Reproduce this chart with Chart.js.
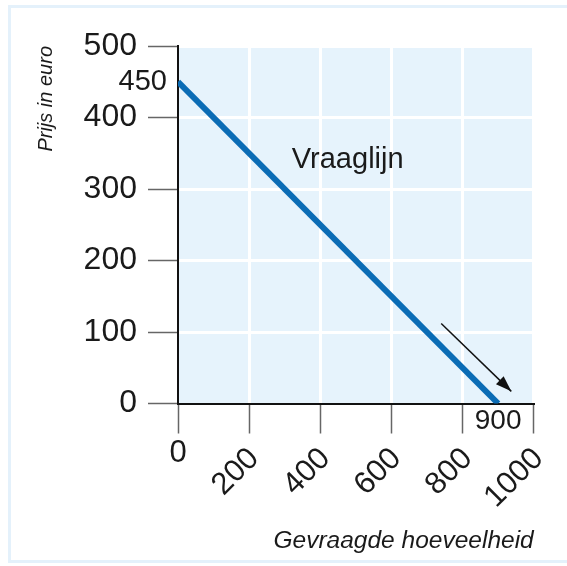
<!DOCTYPE html>
<html>
<head>
<meta charset="utf-8">
<script src="https://cdn.jsdelivr.net/npm/chart.js@4"></script>
<style>
  html, body { margin: 0; padding: 0; background: #fff; overflow: hidden; }
  #frame {
    position: absolute; left: 8px; top: 5px; width: 580px; height: 552px;
    border: 3px solid #e4f1fb;
  }
  #wrap { position: absolute; left: 0; top: 0; width: 567px; height: 566px; }
</style>
</head>
<body>
<div id="frame"></div>
<div id="wrap"><canvas id="chart" width="567" height="566"></canvas></div>
<script>
// vraaglijn: hoeveelheid -> prijs
const quantity = [0, 900];
const price = [450, 0];

// pijl langs de lijn
const arrowQuantity = [740, 937];
const arrowPrice = [112, 17];

// as-waarden
const xTicks = [0, 200, 400, 600, 800, 1000];
const yTicks = [0, 100, 200, 300, 400, 500];

// losse labels
const lineLabel = 'Vraaglijn';
const lineLabelPos = [320, 330];
const priceMark = 450;
const quantityMark = 900;

const FONT = "'Liberation Sans', Arial, sans-serif";
const BLUE = '#0b6cb5';
const TEXT = '#1a1a1a';

const bgPlugin = {
    id: 'bg',
    beforeDraw(chart) {
        const { ctx, chartArea: a } = chart;
        ctx.save();
        ctx.fillStyle = '#e6f3fc';
        ctx.fillRect(a.left, a.top, a.right - a.left, a.bottom - a.top);
        ctx.restore();
    }
};

const extrasPlugin = {
    id: 'extras',
    afterDraw(chart) {
        const { ctx, chartArea: a } = chart;
        const xs = chart.scales.x, ys = chart.scales.y;
        ctx.save();

        // pijlpunt
        const x1 = xs.getPixelForValue(arrowQuantity[0]), y1 = ys.getPixelForValue(arrowPrice[0]);
        const x2 = xs.getPixelForValue(arrowQuantity[1]), y2 = ys.getPixelForValue(arrowPrice[1]);
        const ang = Math.atan2(y2 - y1, x2 - x1);
        const len = 16, half = 5.5;
        ctx.fillStyle = '#111';
        ctx.beginPath();
        ctx.moveTo(x2, y2);
        ctx.lineTo(x2 - len * Math.cos(ang) + half * Math.sin(ang), y2 - len * Math.sin(ang) - half * Math.cos(ang));
        ctx.lineTo(x2 - len * Math.cos(ang) - half * Math.sin(ang), y2 - len * Math.sin(ang) + half * Math.cos(ang));
        ctx.closePath();
        ctx.fill();

        // tekstlabels
        ctx.fillStyle = TEXT;
        ctx.font = '29px ' + FONT;
        ctx.textAlign = 'left';
        ctx.textBaseline = 'alphabetic';
        ctx.fillText(lineLabel, xs.getPixelForValue(lineLabelPos[0]), ys.getPixelForValue(lineLabelPos[1]));

        ctx.textAlign = 'right';
        ctx.textBaseline = 'middle';
        ctx.fillText(String(priceMark), a.left - 11, ys.getPixelForValue(priceMark));

        ctx.font = '28px ' + FONT;
        ctx.textAlign = 'center';
        ctx.fillText(String(quantityMark), xs.getPixelForValue(quantityMark), a.bottom + 18);

        // de 0 onder de x-as staat rechtop
        ctx.font = '31px ' + FONT;
        ctx.fillText(String(xTicks[0]), xs.getPixelForValue(xTicks[0]), a.bottom + 50);
        ctx.restore();
    }
};

const gridColor = (c) => (c.tick && c.tick.value === 0) ? 'rgba(0,0,0,0)' : '#ffffff';

new Chart(document.getElementById('chart'), {
    type: 'line',
    data: {
        datasets: [
            {
                data: quantity.map((q, i) => ({ x: q, y: price[i] })),
                borderColor: BLUE,
                borderWidth: 6,
                borderCapStyle: 'butt',
                pointRadius: 0,
                tension: 0
            },
            {
                data: arrowQuantity.map((q, i) => ({ x: q, y: arrowPrice[i] })),
                borderColor: '#111',
                borderWidth: 1.5,
                pointRadius: 0,
                tension: 0
            }
        ]
    },
    options: {
        responsive: false,
        animation: false,
        events: [],
        layout: { padding: { left: 0, top: 46, right: 33, bottom: 0 } },
        plugins: { legend: { display: false }, tooltip: { enabled: false } },
        scales: {
            x: {
                type: 'linear',
                min: 0,
                max: 1000,
                afterBuildTicks: (s) => { s.ticks = xTicks.map(v => ({ value: v })); },
                afterFit: (s) => { s.height = 162.5; },
                grid: { color: gridColor, lineWidth: 3, tickColor: '#666', tickWidth: 1.5, tickLength: 30 },
                border: { color: '#111', width: 2 },
                ticks: {
                    autoSkip: false,
                    minRotation: 45,
                    maxRotation: 45,
                    padding: 7,
                    labelOffset: 5,
                    color: TEXT,
                    font: { family: FONT, size: 31 },
                    callback: (v) => v === 0 ? '' : String(v)
                },
                title: {
                    display: true,
                    text: 'Gevraagde hoeveelheid',
                    align: 'end',
                    color: TEXT,
                    font: { family: FONT, size: 24.5, style: 'italic' },
                    padding: { top: 0, bottom: 10 }
                }
            },
            y: {
                type: 'linear',
                min: 0,
                max: 500,
                afterBuildTicks: (s) => { s.ticks = yTicks.map(v => ({ value: v })); },
                afterFit: (s) => { s.width = 178; },
                grid: { color: gridColor, lineWidth: 3, tickColor: '#666', tickWidth: 1.5, tickLength: 30 },
                border: { color: '#111', width: 2 },
                ticks: {
                    padding: 11,
                    color: TEXT,
                    font: { family: FONT, size: 32 }
                },
                title: {
                    display: true,
                    text: 'Prijs in euro',
                    align: 'end',
                    color: TEXT,
                    font: { family: FONT, size: 20, style: 'italic' },
                    padding: { top: 34, bottom: 0 }
                }
            }
        }
    },
    plugins: [bgPlugin, extrasPlugin]
});
</script>
</body>
</html>
